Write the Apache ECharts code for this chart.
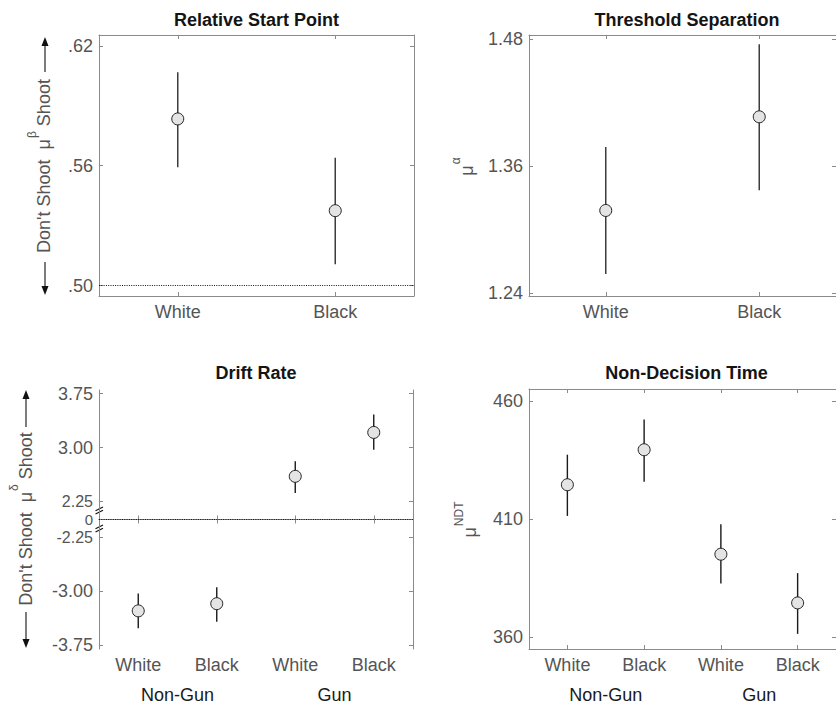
<!DOCTYPE html>
<html><head><meta charset="utf-8">
<script src="https://cdn.jsdelivr.net/npm/echarts@6/dist/echarts.min.js"></script>
<style>html,body{margin:0;padding:0;background:#fff}#c{width:836px;height:705px}</style>
</head><body><div id="c"></div>
<script>
// ---------- data ----------
const catsTop = ['White', 'Black'];
const catsBottom = ['White', 'Black', 'White', 'Black'];
const groups = ['Non-Gun', 'Gun'];

const startMean = [0.5834, 0.5375];
const startLow  = [0.5592, 0.5107];
const startHigh = [0.6067, 0.5640];
const startTicks = [0.50, 0.56, 0.62];

const sepMean = [1.318, 1.4065];
const sepLow  = [1.258, 1.337];
const sepHigh = [1.378, 1.475];
const sepTicks = [1.24, 1.36, 1.48];

const driftMean = [-3.27, -3.17, 2.60, 3.21];
const driftLow  = [-3.51, -3.42, 2.37, 2.97];
const driftHigh = [-3.03, -2.94, 2.81, 3.46];
const driftTicks = [-3.75, -3.00, -2.25, 0, 2.25, 3.00, 3.75];
const driftTickLabels = ['-3.75', '-3.00', '-2.25', '0', '2.25', '3.00', '3.75'];

const ndtMean = [424.5, 439.3, 395.1, 374.5];
const ndtLow  = [411.3, 425.8, 382.7, 361.4];
const ndtHigh = [437.2, 452.1, 407.8, 387.1];
const ndtTicks = [360, 410, 460];

// ---------- style ----------
const FONT = "'Liberation Sans', Arial, Helvetica, sans-serif";
const AX = '#8a8a8a';
const TXT = '#555';
const FS = 18;

// broken axis: compress the gap between -2.25 and 2.25
const BREAK = 2.0;
function toDisp(v) { return v > 0 ? v - BREAK : (v < 0 ? v + BREAK : 0); }
const driftDispTicks = driftTicks.map(toDisp);
function driftFmt(d) {
  let best = 0;
  driftDispTicks.forEach((t, i) => { if (Math.abs(t - d) < Math.abs(driftDispTicks[best] - d)) best = i; });
  const lab = driftTickLabels[best];
  const near = Math.abs(driftTicks[best]) < 2.3;  // labels next to the break sit close together
  if (!near) return '{n|' + lab + '}';
  return driftTicks[best] === 0 ? '{z|' + lab + '}' : '{m|' + lab + '}';
}

const G = [
  {left: 99, top: 35, width: 315, height: 261},
  {left: 529, top: 35, width: 316, height: 261},
  {left: 99, top: 390, width: 314, height: 259},
  {left: 529, top: 389, width: 315, height: 260}
];

function xMain(gi, data) {
  return {type: 'category', gridIndex: gi, data: data, position: 'bottom', boundaryGap: true,
    axisLine: {show: true, lineStyle: {color: AX, width: 1}},
    axisTick: {show: true, inside: true, alignWithLabel: true, length: 4, lineStyle: {color: AX}},
    axisLabel: {color: TXT, fontSize: FS, fontFamily: FONT, margin: 7},
    splitLine: {show: false}};
}
function xTop(gi, data) {
  return {type: 'category', gridIndex: gi, data: data, position: 'top', boundaryGap: true,
    axisLine: {show: true, lineStyle: {color: AX, width: 1}},
    axisTick: {show: true, inside: true, alignWithLabel: true, length: 4, lineStyle: {color: AX}},
    axisLabel: {show: false}, splitLine: {show: false}};
}
function xGroup(gi) {
  return {type: 'category', gridIndex: gi, data: groups, position: 'bottom', boundaryGap: true,
    axisLine: {show: false}, axisTick: {show: false},
    axisLabel: {color: '#1a1a1a', fontSize: FS, fontFamily: FONT, margin: 37},
    splitLine: {show: false}};
}
function yAxis(gi, min, max, ticks, fmt, right, rich) {
  const lbl = {show: true, customValues: ticks, formatter: fmt, color: TXT, fontSize: FS, fontFamily: FONT, margin: 6, hideOverlap: false};
  if (rich) lbl.rich = rich;
  return {type: 'value', gridIndex: gi, min: min, max: max, position: right ? 'right' : 'left',
    axisLine: {show: true, lineStyle: {color: AX, width: 1}},
    axisTick: {show: true, inside: true, length: 4, customValues: ticks, lineStyle: {color: AX}},
    axisLabel: right ? {show: false} : lbl,
    splitLine: {show: false}};
}
const driftRich = {
  n: {fontSize: FS, fontFamily: FONT, color: TXT, lineHeight: 18},
  m: {fontSize: 16, fontFamily: FONT, color: TXT, lineHeight: 14},
  z: {fontSize: 15, fontFamily: FONT, color: TXT, lineHeight: 13}
};

function errSeries(xi, yi, low, high, color, width) {
  return {type: 'custom', xAxisIndex: xi, yAxisIndex: yi, z: 2, silent: true,
    data: low.map((l, i) => [i, l, high[i]]),
    encode: {x: 0, y: [1, 2]},
    renderItem: function (params, api) {
      const a = api.coord([api.value(0), api.value(1)]);
      const b = api.coord([api.value(0), api.value(2)]);
      return {type: 'line', shape: {x1: a[0], y1: a[1], x2: b[0], y2: b[1]},
        style: {stroke: color, lineWidth: width}};
    }};
}
function ptSeries(xi, yi, mean, baseline) {
  const s = {type: 'scatter', xAxisIndex: xi, yAxisIndex: yi, z: 5, silent: true,
    symbol: 'circle', symbolSize: 12,
    itemStyle: {color: '#e4e4e4', borderColor: '#222', borderWidth: 1, opacity: 1},
    data: mean.map((m, i) => [i, m])};
  if (baseline !== undefined) {
    s.markLine = {silent: true, symbol: ['none', 'none'], label: {show: false}, animation: false,
      lineStyle: {color: '#111', type: [1, 1.3], width: 1},
      data: [{yAxis: baseline}]};
  }
  return s;
}

function title(text, x, y) {
  return {text: text, left: x, top: y, textAlign: 'center', textVerticalAlign: 'middle', padding: 0,
    textStyle: {fontSize: FS, fontWeight: 'bold', color: '#141414', fontFamily: FONT}};
}

const option = {
  animation: false,
  backgroundColor: '#fff',
  textStyle: {fontFamily: FONT},
  title: [
    title('Relative Start Point', G[0].left + G[0].width / 2, 20),
    title('Threshold Separation', G[1].left + G[1].width / 2, 20),
    title('Drift Rate', G[2].left + G[2].width / 2, 373),
    title('Non-Decision Time', G[3].left + G[3].width / 2, 373)
  ],
  grid: G.map(g => Object.assign({containLabel: false}, g)),
  xAxis: [
    xMain(0, catsTop), xTop(0, catsTop),
    xMain(1, catsTop), xTop(1, catsTop),
    xMain(2, catsBottom), xTop(2, catsBottom), xGroup(2),
    xMain(3, catsBottom), xTop(3, catsBottom), xGroup(3)
  ],
  yAxis: [
    yAxis(0, 0.4948, 0.6254, startTicks, v => v.toFixed(2).replace(/^0/, ''), false),
    yAxis(0, 0.4948, 0.6254, startTicks, null, true),
    yAxis(1, 1.2372, 1.4838, sepTicks, v => v.toFixed(2), false),
    yAxis(1, 1.2372, 1.4838, sepTicks, null, true),
    yAxis(2, -1.8, 1.8, driftDispTicks, driftFmt, false, driftRich),
    yAxis(2, -1.8, 1.8, driftDispTicks, null, true),
    yAxis(3, 355, 465, ndtTicks, v => String(Math.round(v)), false),
    yAxis(3, 355, 465, ndtTicks, null, true)
  ],
  series: [
    errSeries(0, 0, startLow, startHigh, '#3c3c3c', 1.5),
    ptSeries(0, 0, startMean, 0.5),
    errSeries(2, 2, sepLow, sepHigh, '#3c3c3c', 1.5),
    ptSeries(2, 2, sepMean),
    errSeries(4, 4, driftLow.map(toDisp), driftHigh.map(toDisp), '#1a1a1a', 1.4),
    ptSeries(4, 4, driftMean.map(toDisp), 0),
    errSeries(7, 6, ndtLow, ndtHigh, '#1a1a1a', 1.4),
    ptSeries(7, 6, ndtMean)
  ]
};

const chart = echarts.init(document.getElementById('c'), null, {renderer: 'svg'});
chart.setOption(option);

// ---------- axis labels, arrows, break marks ----------
function arrow(x, tail, tip) {
  const dir = tip > tail ? 1 : -1;
  const headLen = 9, headHalf = 3.5;
  return [
    {type: 'line', silent: true, shape: {x1: x, y1: tail, x2: x, y2: tip - dir * headLen + dir},
      style: {stroke: '#111', lineWidth: 1.1}},
    {type: 'polygon', silent: true,
      shape: {points: [[x, tip], [x - headHalf, tip - dir * headLen], [x + headHalf, tip - dir * headLen]]},
      style: {fill: '#111'}}
  ];
}
function rotLabel(x, y, main1, sup, main2, supShift) {
  return {type: 'text', silent: true, x: x, y: y, rotation: Math.PI / 2,
    style: {
      text: '{a|' + main1 + '}{s|' + sup + '}' + (main2 ? '{a|' + main2 + '}' : ''),
      align: 'center', verticalAlign: 'middle',
      rich: {
        a: {fontSize: FS, fontFamily: FONT, fill: TXT},
        s: {fontSize: 12, fontFamily: FONT, fill: TXT, padding: [0, main2 ? 5 : 1, supShift, 1]}
      }
    }};
}

const graphics = [];
graphics.push(rotLabel(43.5, 166, "Don't Shoot  μ", 'β', 'Shoot', 24));
graphics.push(...arrow(45, 72, 37));
graphics.push(...arrow(45, 262, 295));
graphics.push(rotLabel(467, 166, 'μ', 'α', '', 22));
graphics.push(rotLabel(25.5, 519, "Don't Shoot  μ", 'δ', 'Shoot', 24));
graphics.push(...arrow(26, 427, 390));
graphics.push(...arrow(26, 612, 648));
graphics.push(rotLabel(470, 519, 'μ', 'NDT', '', 22));

// break marks on the drift-rate axis, midway between 0 and the tick next to it
const upper = chart.convertToPixel({yAxisIndex: 4}, (toDisp(2.25) + 0) / 2);
const lower = chart.convertToPixel({yAxisIndex: 4}, (toDisp(-2.25) + 0) / 2);
[upper, lower].forEach(function (py) {
  const x = G[2].left;
  [-1.6, 1.6].forEach(function (off) {
    graphics.push({type: 'line', silent: true,
      shape: {x1: x - 3.5, y1: py + off + 1.8, x2: x + 4, y2: py + off - 1.8},
      style: {stroke: '#111', lineWidth: 1.1}});
  });
});
chart.setOption({graphic: graphics});
</script>
</body></html>
